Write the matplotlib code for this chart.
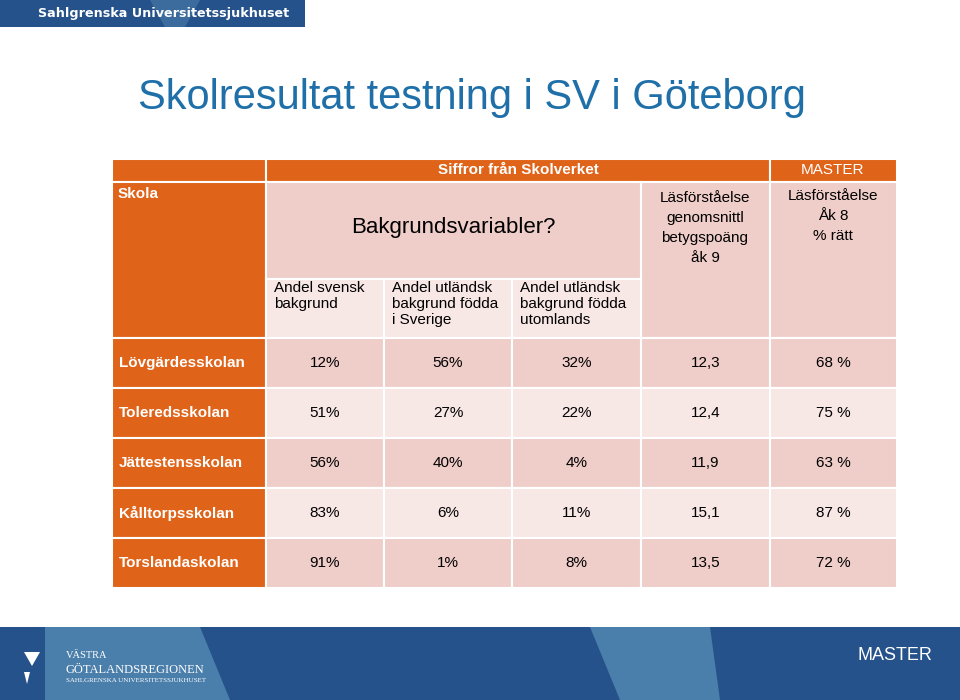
import matplotlib
matplotlib.use("Agg")
import matplotlib.pyplot as plt
from matplotlib.patches import Rectangle, Polygon

schools = ["Lövgärdesskolan", "Toleredsskolan", "Jättestensskolan", "Kålltorpsskolan", "Torslandaskolan"]
svensk = ["12%", "51%", "56%", "83%", "91%"]
utl_sverige = ["56%", "27%", "40%", "6%", "1%"]
utl_utomlands = ["32%", "22%", "4%", "11%", "8%"]
betyg = ["12,3", "12,4", "11,9", "15,1", "13,5"]
master = ["68 %", "75 %", "63 %", "87 %", "72 %"]

ORANGE = "#df6318"
PINK_D = "#efcdc9"
PINK_L = "#f7e7e5"
BLUE = "#25528a"
LBLUE = "#4a7eab"

fig = plt.figure(figsize=(9.6, 7.0), dpi=100)
ax = fig.add_axes([0, 0, 1, 1])
ax.set_xlim(0, 960); ax.set_ylim(700, 0); ax.axis("off")

def rect(x0, y0, x1, y1, c):
    ax.add_patch(Rectangle((x0, y0), x1 - x0, y1 - y0, facecolor=c, edgecolor="white", lw=1.5))

def txt(x, y, s, **kw):
    kw.setdefault("fontsize", 11); kw.setdefault("color", "black")
    kw.setdefault("fontfamily", "Liberation Sans")
    ax.text(x, y, s, **kw)

# top banner
ax.add_patch(Rectangle((0, 0), 305, 27, facecolor=BLUE, lw=0))
ax.add_patch(Polygon([(150, 0), (200, 0), (185, 27), (165, 27)], facecolor=LBLUE, lw=0, alpha=0.6))
txt(38, 14, "Sahlgrenska Universitetssjukhuset", color="white", fontsize=9.2, fontweight="bold", va="center", fontfamily="DejaVu Sans")

# title
txt(138, 98, "Skolresultat testning i SV i Göteborg", color="#1f6fa8", fontsize=30, va="center")

cols = [112, 266, 384, 512, 641, 770, 897]
# header row
rect(112, 159, 266, 182, ORANGE)
rect(266, 159, 770, 182, ORANGE)
rect(770, 159, 897, 182, ORANGE)
txt(518, 170.5, "Siffror från Skolverket", color="white", fontweight="bold", ha="center", va="center")
txt(833, 170.5, "MASTER", color="white", ha="center", va="center")
rect(112, 182, 266, 338, ORANGE)
txt(118, 194, "Skola", color="white", fontweight="bold", va="center")
rect(266, 182, 641, 279, PINK_D)
txt(453, 228, "Bakgrundsvariabler?", fontsize=16, ha="center", va="center")
rect(641, 182, 770, 338, PINK_D)
txt(705, 228, "Läsförståelse\ngenomsnittl\nbetygspoäng\nåk 9", ha="center", va="center", linespacing=1.55)
rect(770, 182, 897, 338, PINK_D)
txt(833, 216, "Läsförståelse\nÅk 8\n% rätt", ha="center", va="center", linespacing=1.55)
subs = ["Andel svensk\nbakgrund", "Andel utländsk\nbakgrund födda\ni Sverige", "Andel utländsk\nbakgrund födda\nutomlands"]
for i, s in enumerate(subs):
    rect(cols[1 + i], 279, cols[2 + i], 338, PINK_L)
    txt(cols[1 + i] + 8, 281, s, va="top", linespacing=1.2)

for r, name in enumerate(schools):
    y0 = 338 + 50 * r; y1 = y0 + 50
    rect(112, y0, 266, y1, ORANGE)
    txt(119, (y0 + y1) / 2, name, color="white", fontweight="bold", va="center")
    vals = [svensk[r], utl_sverige[r], utl_utomlands[r], betyg[r], master[r]]
    c = PINK_D if r % 2 == 0 else PINK_L
    for j, v in enumerate(vals):
        rect(cols[1 + j], y0, cols[2 + j], y1, c)
        txt((cols[1 + j] + cols[2 + j]) / 2, (y0 + y1) / 2, v, ha="center", va="center")

# bottom banner
ax.add_patch(Rectangle((0, 627), 960, 73, facecolor=BLUE, lw=0))
ax.add_patch(Polygon([(45, 627), (200, 627), (230, 700), (45, 700)], facecolor=LBLUE, lw=0))
ax.add_patch(Polygon([(590, 627), (710, 627), (720, 700), (620, 700)], facecolor=LBLUE, lw=0))
ax.add_patch(Rectangle((0, 627), 45, 73, facecolor=BLUE, lw=0))
ax.add_patch(Polygon([(24, 652), (40, 652), (32, 666)], facecolor="white", lw=0))
ax.add_patch(Polygon([(24, 672), (30, 672), (27, 684)], facecolor="white", lw=0))
txt(66, 656, "VÄSTRA", color="white", fontsize=7.5, va="center", fontfamily="Liberation Serif")
txt(66, 670, "GÖTALANDSREGIONEN", color="white", fontsize=9, va="center", fontfamily="Liberation Serif")
txt(66, 681, "SAHLGRENSKA UNIVERSITETSSJUKHUSET", color="white", fontsize=5, va="center", fontfamily="Liberation Serif")
txt(895, 656, "MASTER", color="white", fontsize=13, ha="center", va="center")

fig.savefig("out.png", dpi=100)
